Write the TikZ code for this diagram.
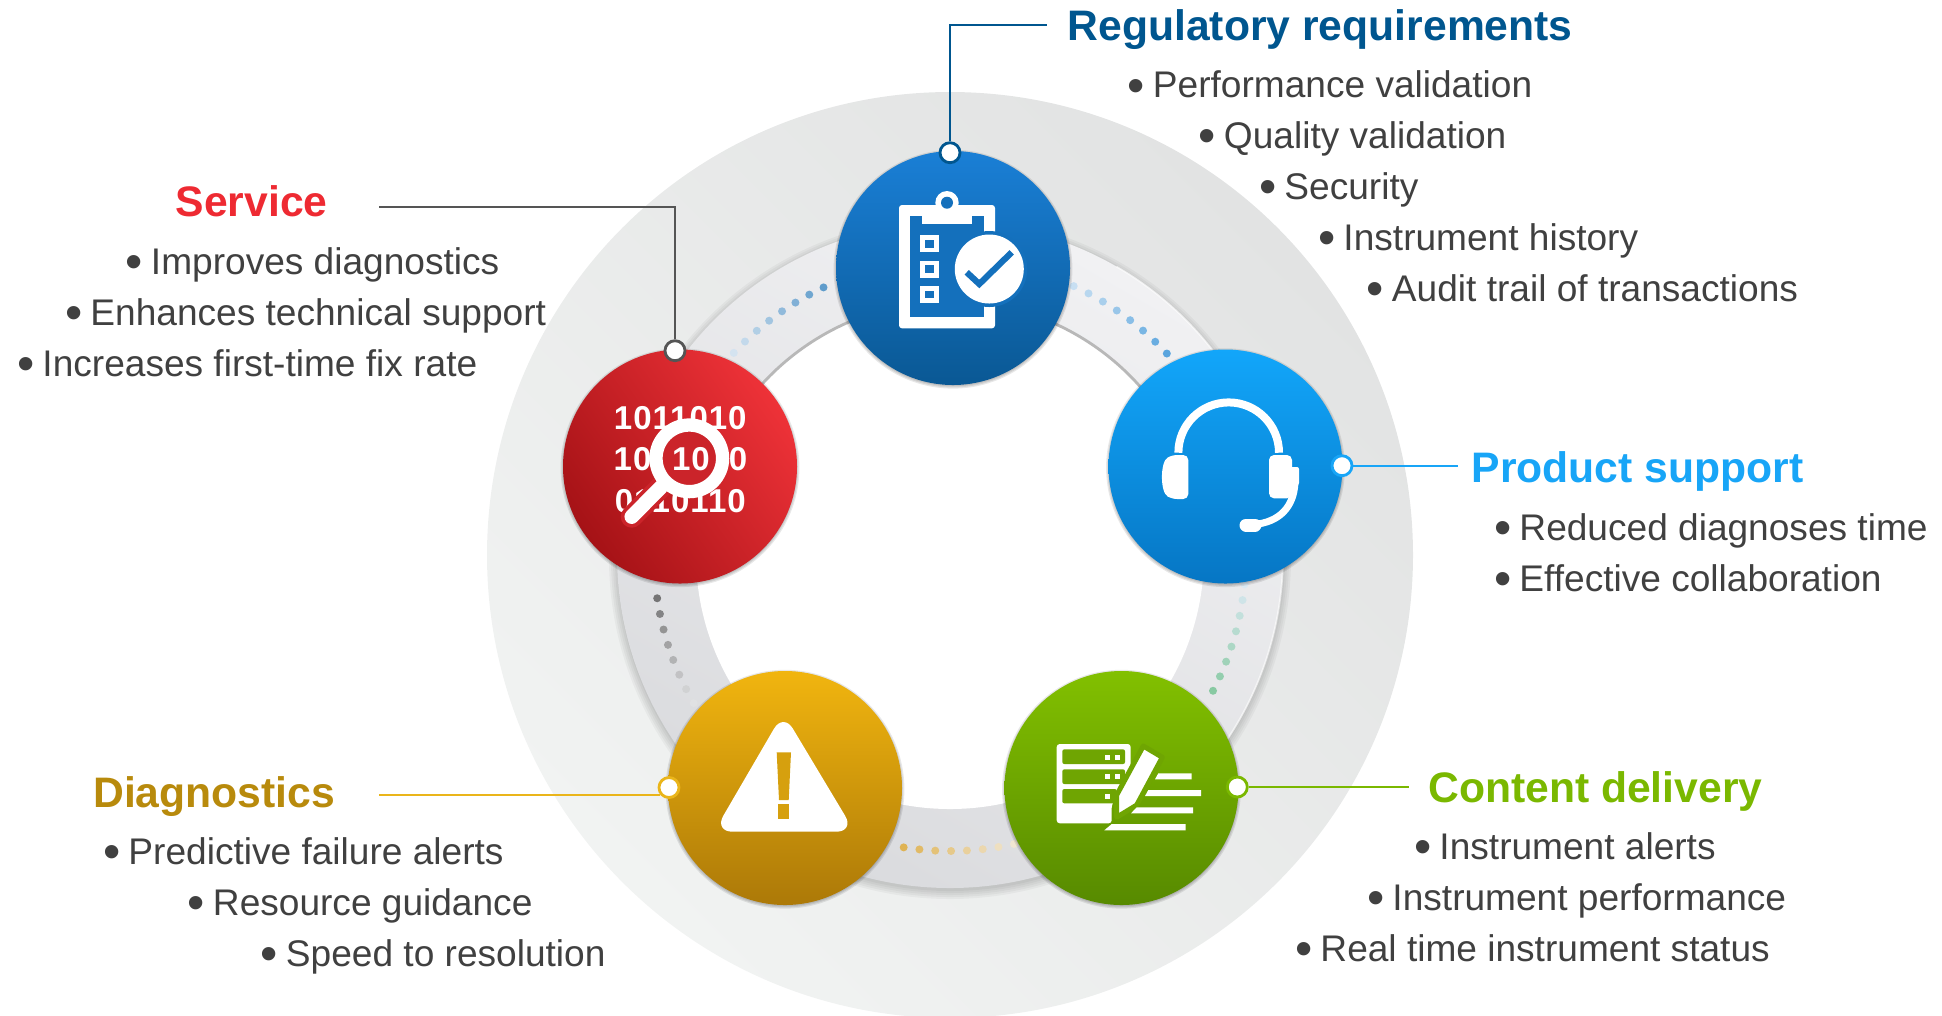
\documentclass[tikz,border=0pt]{standalone}
\usepackage{fontspec}
\setmainfont{Liberation Sans}
\newfontfamily\bitsfont[LetterSpace=3]{Liberation Sans}
\definecolor{discgray}{HTML}{E2E3E3}
\definecolor{disclight}{HTML}{F1F3F2}
\definecolor{ringlight}{HTML}{F1F1F3}
\definecolor{ringdark}{HTML}{DADBDE}
\definecolor{bodygray}{HTML}{404040}
\definecolor{regblue}{HTML}{00568F}
\definecolor{regtop}{HTML}{1A7FD6}
\definecolor{regbot}{HTML}{0A5894}
\definecolor{regmid}{HTML}{1470BC}
\definecolor{prodblue}{HTML}{18A5F7}
\definecolor{prodtop}{HTML}{12A6FA}
\definecolor{prodbot}{HTML}{0676C4}
\definecolor{greentext}{HTML}{7AB800}
\definecolor{greentop}{HTML}{82C000}
\definecolor{greenbot}{HTML}{578A00}
\definecolor{greenmid}{HTML}{6FA502}
\definecolor{goldtext}{HTML}{B88A0C}
\definecolor{goldline}{HTML}{EAB51A}
\definecolor{goldtop}{HTML}{F1B50F}
\definecolor{goldbot}{HTML}{AC7908}
\definecolor{goldmid}{HTML}{D6A00E}
\definecolor{redtext}{HTML}{EE2A32}
\definecolor{redtop}{HTML}{EE3238}
\definecolor{redbot}{HTML}{A51216}
\definecolor{redmid}{HTML}{CB242A}
\definecolor{servline}{HTML}{555555}
\definecolor{dotaa}{HTML}{5F9CCB}
\definecolor{dotab}{HTML}{D4E3F0}
\definecolor{dotba}{HTML}{5AA5DE}
\definecolor{dotbb}{HTML}{C8DFF2}
\definecolor{dotca}{HTML}{757575}
\definecolor{dotcb}{HTML}{E0E1E3}
\definecolor{dotda}{HTML}{DFB354}
\definecolor{dotdb}{HTML}{F0E6D2}
\definecolor{dotea}{HTML}{88C9A2}
\definecolor{doteb}{HTML}{DBE9F3}
\tikzset{
  hub/.style = {circle, minimum size = 2.34cm, inner sep = 0},
  marker/.style = {circle, draw = #1, fill = white, line width = .8pt, minimum size = .2cm, inner sep = 0},
  leader/.style = {draw = #1, line width = .55pt},
  headtext/.style = {anchor = base west, inner sep = 0, text = #1, font = \fontsize{12.14}{14}\selectfont\bfseries},
  listtext/.style = {anchor = base west, inner sep = 0, text = bodygray, font = \fontsize{10.55}{12}\selectfont},
  bits/.style = {inner sep = 0, text = white, font = \fontsize{9.4}{10}\selectfont\bitsfont\bfseries}
}
\begin{document}
\begin{tikzpicture}[x = 1cm, y = -1cm]
\def\dotarc#1#2#3#4{\foreach \i in {0,...,7} {\pgfmathsetmacro\a{#1 + \i * #2} \pgfmathsetmacro\m{100 - \i * 100 / 7} \fill [#3!\m!#4] (ring) ++(\a:2.96cm) circle (.04cm);}}
\def\blt{\makebox[.35em][c]{\raisebox{-1.2pt}{\fontsize{14}{14}\selectfont •}}\ }
\useasboundingbox (0, 0) rectangle (19.42, 10.15);
\coordinate (ring) at (9.50, 5.55);

\shade [top color = disclight, bottom color = discgray, shading angle = 135] (ring) circle (4.63cm);
\foreach \s in {0, .02, .04, .06, .08} {
  \fill [black, opacity = .035] (9.50, 5.58) circle (3.33cm + \s cm);
}
\shade [top color = ringlight, bottom color = ringdark, shading angle = -30] (ring) circle (3.33cm);
\draw [white, opacity = .6, line width = .5pt] (ring) ++(-35:3.33cm) arc (-35:60:3.33cm);
\fill [white] (ring) circle (2.54cm);
\draw [black!28, line width = .8pt] (ring) ++(165:2.54cm) arc (165:15:2.54cm);

\dotarc{115.3}{3.09}{dotaa}{dotab}
\dotarc{42.9}{3.2}{dotba}{dotbb}
\dotarc{188.4}{3.09}{dotca}{dotcb}
\dotarc{261}{3.07}{dotda}{dotdb}
\dotarc{-27.3}{3.09}{dotea}{doteb}

\foreach \x/\y in {9.53/2.68, 12.255/4.665, 11.215/7.88, 7.85/7.88, 6.80/4.665} {
  \foreach \s in {0, .012, .024} {
    \fill [black, opacity = .09] (\x, \y + .012) circle (1.17cm + \s cm);
  }
}

\node [hub, top color = regtop, bottom color = regbot] (reg) at (9.53, 2.68) {};
\node [hub, top color = prodtop, bottom color = prodbot] (prod) at (12.255, 4.665) {};
\node [hub, top color = greentop, bottom color = greenbot] (cont) at (11.215, 7.88) {};
\node [hub, top color = goldtop, bottom color = goldbot] (diag) at (7.85, 7.88) {};
\node [hub, top color = redtop, bottom color = redbot, shading angle = -55] (serv) at (6.80, 4.665) {};

\node [marker = regblue] (regmark) at (9.50, 1.527) {};
\node [marker = servline] (servmark) at (6.75, 3.507) {};
\node [marker = prodblue] (prodmark) at (13.42, 4.657) {};
\node [marker = greentext] (contmark) at (12.373, 7.87) {};
\node [marker = goldline] (diagmark) at (6.69, 7.875) {};

\coordinate (regend) at (10.47, .25);
\coordinate (servend) at (3.79, 2.07);
\coordinate (prodend) at (14.58, 4.657);
\coordinate (contend) at (14.09, 7.87);
\coordinate (diagend) at (3.79, 7.933);
\draw [leader = regblue] (regmark) |- (regend);
\draw [leader = servline] (servmark) |- (servend);
\draw [leader = prodblue] (prodmark) -- (prodend);
\draw [leader = greentext] (contmark) -- (contend);
\draw [leader = goldline] (diagmark.220) -- (diagmark.220 -| diagend);

% clipboard
\fill [white, rounded corners = .03cm] (8.99, 2.05) rectangle (9.95, 3.283);
\fill [regmid] (9.10, 2.16) rectangle (9.843, 3.173);
\fill [white] (9.217, 2.16) rectangle (9.723, 2.24);
\fill [white] (9.47, 2.027) circle (.117cm);
\fill [regmid] (9.47, 2.027) circle (.06cm);
\foreach \y in {2.353, 2.607, 2.86} {
  \draw [white, line width = .047cm] (9.227, \y + .024) rectangle (9.367, \y + .146);
}
\fill [regmid] (9.893, 2.69) circle (.38cm);
\fill [white] (9.893, 2.69) circle (.345cm);
\draw [regmid, line width = .062cm] (9.667, 2.723) -- (9.793, 2.84) -- (10.117, 2.523);

% binary digits and lens
\node [bits] (bitsa) at (6.803, 4.177) {1011010};
\node [bits, anchor = west] (bitsb) at (6.13, 4.59) {10};
\node [bits, anchor = east] (bitsd) at (7.48, 4.59) {0};
\node [bits] (bitsc) at (6.803, 5.01) {0110110};
\draw [redmid, line width = .22cm, line cap = round] (6.317, 5.167) -- (6.61, 4.87);
\draw [white, line width = .145cm, line cap = round] (6.317, 5.167) -- (6.61, 4.87);
\fill [redmid] (6.893, 4.583) circle (.29cm);
\draw [white, line width = .133cm] (6.893, 4.583) circle (.333cm);
\node [bits] (bitslens) at (6.91, 4.59) {10};

% headset
\draw [white, line width = .08cm] (11.784, 4.527) arc (180:0:.503cm);
\fill [white, rounded corners = .05cm] (11.883, 4.55) -- (11.883, 4.99) -- (11.72, 4.99) .. controls (11.60, 4.92) and (11.60, 4.62) .. (11.72, 4.55) -- cycle;
\fill [white, rounded corners = .05cm] (12.69, 4.55) -- (12.92, 4.55) -- (12.92, 4.983) -- (12.69, 4.983) -- cycle;
\fill [white, rounded corners = .02cm] (12.90, 4.67) rectangle (12.99, 4.85);
\draw [white, line width = .07cm] (12.95, 4.80) .. controls (12.95, 5.02) and (12.84, 5.20) .. (12.58, 5.24);
\draw [white, line width = .13cm, line cap = round] (12.46, 5.25) -- (12.55, 5.25);

% warning sign
\fill [white, rounded corners = .185cm] (7.833, 7.127) -- (8.547, 8.317) -- (7.14, 8.317) -- cycle;
\fill [goldmid] (7.767, 7.523) -- (7.91, 7.523) -- (7.887, 8.00) -- (7.79, 8.00) -- cycle;
\fill [goldmid] (7.777, 8.04) rectangle (7.893, 8.193);

% server and pencil
\fill [white, rounded corners = .03cm] (10.567, 7.44) -- (11.307, 7.44) -- (11.307, 7.70) -- (11.117, 8.05) -- (11.117, 8.233) -- (10.567, 8.233) -- cycle;
\fill [greenmid, rounded corners = .02cm] (10.623, 7.493) rectangle (11.25, 7.64);
\fill [greenmid, rounded corners = .02cm] (10.623, 7.693) rectangle (11.25, 7.84);
\fill [greenmid, rounded corners = .02cm] (10.623, 7.89) rectangle (11.167, 8.033);
\foreach \x/\y in {11.05/7.55, 11.15/7.55, 11.05/7.74, 11.15/7.74, 11.05/7.94} {
  \fill [white] (\x, \y) rectangle (\x + .05, \y + .05);
}
\draw [greenmid, fill = white, line width = .05cm, line join = round] (11.433, 7.46) -- (11.623, 7.573) -- (11.367, 8.05) -- (11.167, 8.173) -- (11.167, 7.95) -- cycle;
\fill [white] (11.583, 7.733) -- (11.917, 7.733) -- (11.917, 7.793) -- (11.55, 7.793) -- cycle;
\fill [white] (11.483, 7.90) -- (12.01, 7.90) -- (12.01, 7.96) -- (11.45, 7.96) -- cycle;
\fill [white] (11.367, 8.073) -- (11.93, 8.073) -- (11.93, 8.133) -- (11.31, 8.133) -- cycle;
\fill [white] (11.117, 8.24) -- (11.857, 8.24) -- (11.857, 8.303) -- (11.043, 8.303) -- cycle;

\node [headtext = regblue] (reghead) at (10.67, .40) {Regulatory requirements};
\node [listtext] (rega) at (11.29, .979) {\blt Performance validation};
\node [listtext] (regb) at (12.00, 1.487) {\blt Quality validation};
\node [listtext] (regc) at (12.605, 1.995) {\blt Security};
\node [listtext] (regd) at (13.195, 2.502) {\blt Instrument history};
\node [listtext] (rege) at (13.68, 3.012) {\blt Audit trail of transactions};

\node [headtext = redtext] (servhead) at (1.75, 2.16) {Service};
\node [listtext] (serva) at (1.27, 2.74) {\blt Improves diagnostics};
\node [listtext] (servb) at (.665, 3.25) {\blt Enhances technical support};
\node [listtext] (servc) at (.185, 3.76) {\blt Increases first-time fix rate};

\node [headtext = prodblue] (prodhead) at (14.71, 4.82) {Product support};
\node [listtext] (proda) at (14.955, 5.405) {\blt Reduced diagnoses time};
\node [listtext] (prodb) at (14.955, 5.915) {\blt Effective collaboration};

\node [headtext = greentext] (conthead) at (14.275, 8.025) {Content delivery};
\node [listtext] (conta) at (14.155, 8.59) {\blt Instrument alerts};
\node [listtext] (contb) at (13.685, 9.10) {\blt Instrument performance};
\node [listtext] (contc) at (12.965, 9.61) {\blt Real time instrument status};

\node [headtext = goldtext] (diaghead) at (.925, 8.07) {Diagnostics};
\node [listtext] (diaga) at (1.045, 8.64) {\blt Predictive failure alerts};
\node [listtext] (diagb) at (1.89, 9.15) {\blt Resource guidance};
\node [listtext] (diagc) at (2.62, 9.66) {\blt Speed to resolution};
\end{tikzpicture}
\end{document}
